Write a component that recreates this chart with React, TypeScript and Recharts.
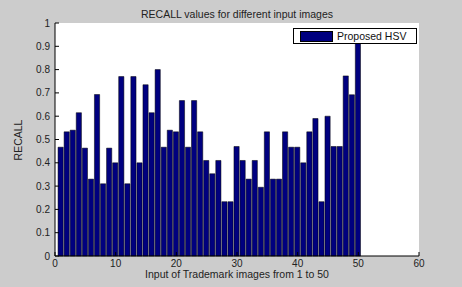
import { BarChart, Bar, XAxis, YAxis, CartesianGrid } from 'recharts';

const imageIndex = [
  1, 2, 3, 4, 5, 6, 7, 8, 9, 10,
  11, 12, 13, 14, 15, 16, 17, 18, 19, 20,
  21, 22, 23, 24, 25, 26, 27, 28, 29, 30,
  31, 32, 33, 34, 35, 36, 37, 38, 39, 40,
  41, 42, 43, 44, 45, 46, 47, 48, 49, 50,
];

const recallHsv = [
  0.467, 0.533, 0.54, 0.615, 0.463, 0.33, 0.693, 0.31, 0.463, 0.4,
  0.77, 0.31, 0.77, 0.4, 0.735, 0.615, 0.8, 0.467, 0.54, 0.533,
  0.667, 0.467, 0.667, 0.533, 0.41, 0.353, 0.41, 0.233, 0.233, 0.47,
  0.41, 0.33, 0.41, 0.295, 0.533, 0.33, 0.33, 0.533, 0.467, 0.467,
  0.4, 0.533, 0.59, 0.233, 0.6, 0.47, 0.47, 0.773, 0.692, 0.92,
];

const xTicks = [0, 10, 20, 30, 40, 50, 60];
const yTicks = [0, 0.1, 0.2, 0.3, 0.4, 0.5, 0.6, 0.7, 0.8, 0.9, 1];

const data = imageIndex.map((x, i) => ({ x, recall: recallHsv[i] }));

const font = '"Liberation Sans", Arial, sans-serif';
const tickStyle = { fontSize: 10, fill: '#222', fontFamily: font };

// matlab-ish legend box, sits over the plot (bar 50 runs under it)
function LegendBox() {
  return (
    <div
      style={{
        position: 'absolute',
        left: 293,
        top: 28,
        width: 124,
        height: 16,
        boxSizing: 'border-box',
        background: '#fff',
        border: '1px solid #000',
        display: 'flex',
        alignItems: 'center',
        paddingLeft: 6,
        fontFamily: font,
        fontSize: 10.5,
        color: '#111',
      }}
    >
      <span style={{ width: 33, height: 11, background: '#00007f', border: '1px solid #000', marginRight: 4, boxSizing: 'border-box' }} />
      Proposed HSV
    </div>
  );
}

export default function App() {
  return (
    <div style={{ position: 'absolute', left: 0, top: 0, width: 462, height: 287, background: '#cccccc' }}>
      <div style={{ position: 'absolute', top: 8, left: 55, width: 364, textAlign: 'center', fontFamily: font, fontSize: 10.5, color: '#222' }}>
        RECALL values for different input images
      </div>
      <div style={{ position: 'absolute', top: 268, left: 55, width: 364, textAlign: 'center', fontFamily: font, fontSize: 10.5, color: '#222' }}>
        Input of Trademark images from 1 to 50
      </div>
      <div
        style={{
          position: 'absolute',
          left: 18,
          top: 140,
          transform: 'translate(-50%, -50%) rotate(-90deg)',
          fontFamily: font,
          fontSize: 10.5,
          color: '#222',
        }}
      >
        RECALL
      </div>
      <BarChart
        width={462}
        height={287}
        data={data}
        margin={{ top: 23, right: 43, left: 0, bottom: 0 }}
        style={{ position: 'absolute', left: 0, top: 0 }}
      >
        <CartesianGrid horizontal={false} vertical={false} fill="#ffffff" />
        <XAxis
          dataKey="x"
          type="number"
          domain={[0, 60]}
          ticks={xTicks}
          height={31}
          tickSize={-4}
          tickMargin={8}
          tick={tickStyle}
          stroke="#000"
          interval={0}
          allowDataOverflow
        />
        <XAxis
          xAxisId="top"
          orientation="top"
          type="number"
          domain={[0, 60]}
          ticks={xTicks}
          height={0}
          tickSize={-4}
          tickFormatter={() => ''}
          stroke="#000"
        />
        <YAxis
          domain={[0, 1]}
          ticks={yTicks}
          width={55}
          tickSize={-4}
          tickMargin={9}
          tick={tickStyle}
          stroke="#000"
          interval={0}
          tickFormatter={(v: number) => String(Math.round(v * 10) / 10)}
        />
        <YAxis
          yAxisId="right"
          orientation="right"
          domain={[0, 1]}
          ticks={yTicks}
          width={0}
          tickSize={-4}
          tickFormatter={() => ''}
          stroke="#000"
        />
        <Bar
          dataKey="recall"
          name="Proposed HSV"
          fill="#00007f"
          stroke="#000"
          strokeWidth={0.5}
          barSize={5.2}
          isAnimationActive={false}
        />
      </BarChart>
      <LegendBox />
    </div>
  );
}
